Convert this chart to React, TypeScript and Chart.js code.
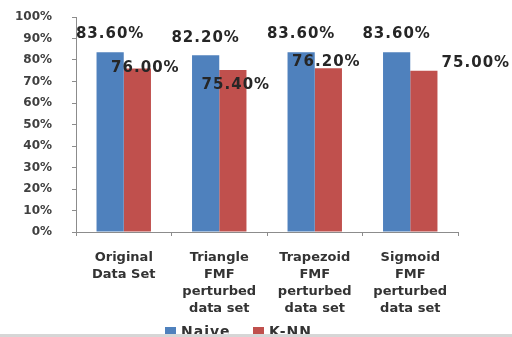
import React, { useEffect, useRef } from "react";
import { Chart, registerables } from "chart.js";

Chart.register(...registerables);

const categories: string[][] = [
  ["Original", "Data Set"],
  ["Triangle", "FMF", "perturbed", "data set"],
  ["Trapezoid", "FMF", "perturbed", "data set"],
  ["Sigmoid", "FMF", "perturbed", "data set"],
];
const naiveValues = [83.6, 82.2, 83.6, 83.6];
const knnValues = [76.0, 75.4, 76.2, 75.0];
const seriesNames = ["Naive", "K-NN"];
const seriesColors = ["#4F81BD", "#C0504D"];

// label placement relative to each bar's top centre
const naiveLabelShift = [
  [0, -18],
  [0, -17],
  [0, -18],
  [0, -18],
];
const knnLabelShift = [
  [8, 0],
  [3, 15],
  [-2, -6],
  [52, -8],
];

const FONT = "'DejaVu Sans', Verdana, sans-serif";

const valueLabels = {
  id: "valueLabels",
  afterDatasetsDraw(chart: any) {
    const ctx = chart.ctx;
    const shifts = [naiveLabelShift, knnLabelShift];
    ctx.save();
    ctx.font = `bold 15px ${FONT}`;
    (ctx as any).letterSpacing = "1px";
    ctx.fillStyle = "#262626";
    ctx.textAlign = "center";
    ctx.textBaseline = "middle";
    chart.data.datasets.forEach((ds: any, di: number) => {
      const meta = chart.getDatasetMeta(di);
      meta.data.forEach((bar: any, i: number) => {
        const v = ds.data[i] as number;
        const [dx, dy] = shifts[di][i];
        ctx.fillText(v.toFixed(2) + "%", bar.x + dx, bar.y + dy);
      });
    });
    ctx.restore();
  },
};

const bottomLegend = {
  id: "bottomLegend",
  afterDraw(chart: any) {
    const ctx = chart.ctx;
    ctx.save();
    ctx.font = `bold 14px ${FONT}`;
    (ctx as any).letterSpacing = "1px";
    ctx.textBaseline = "middle";
    ctx.textAlign = "left";
    const y = 332;
    const starts = [165, 253];
    chart.data.datasets.forEach((ds: any, di: number) => {
      const x = starts[di];
      ctx.fillStyle = ds.backgroundColor;
      ctx.fillRect(x, y - 5, 11, 10);
      ctx.fillStyle = "#333333";
      ctx.fillText(ds.label, x + 16, y);
    });
    ctx.fillStyle = "#d6d6d6";
    ctx.fillRect(0, 334, chart.width, 3);
    ctx.restore();
  },
};

export default function App() {
  const canvasRef = useRef<HTMLCanvasElement | null>(null);

  useEffect(() => {
    document.body.style.margin = "0";
    const canvas = canvasRef.current;
    if (!canvas) return;
    const chart = new Chart(canvas, {
      type: "bar",
      data: {
        labels: categories,
        datasets: [
          {
            label: seriesNames[0],
            data: naiveValues,
            backgroundColor: seriesColors[0],
            categoryPercentage: 0.57,
            barPercentage: 1.0,
          },
          {
            label: seriesNames[1],
            data: knnValues,
            backgroundColor: seriesColors[1],
            categoryPercentage: 0.57,
            barPercentage: 1.0,
          },
        ],
      },
      options: {
        responsive: false,
        animation: false,
        layout: { padding: { left: 0, right: 54, top: 17, bottom: 0 } },
        plugins: {
          legend: { display: false },
          tooltip: { enabled: false },
        },
        scales: {
          y: {
            min: 0,
            max: 100,
            afterFit: (scale: any) => {
              scale.width = 76;
              scale.paddingTop = 0;
              scale.paddingBottom = 0;
            },
            ticks: {
              stepSize: 10,
              padding: 20,
              color: "#404040",
              font: { family: FONT, size: 12, weight: "bold" },
              callback: (v: any) => v + "%",
            },
            grid: {
              drawOnChartArea: false,
              drawTicks: true,
              tickLength: 4,
              color: "#8c8c8c",
            },
            border: { display: true, color: "#8c8c8c", width: 1 },
          },
          x: {
            afterFit: (scale: any) => {
              scale.height = 105;
            },
            ticks: {
              autoSkip: false,
              maxRotation: 0,
              minRotation: 0,
              padding: 13,
              color: "#333333",
              font: { family: FONT, size: 13, weight: "bold", lineHeight: 1.3 },
            },
            grid: {
              drawOnChartArea: false,
              drawTicks: true,
              tickLength: 4,
              color: "#8c8c8c",
            },
            border: { display: true, color: "#8c8c8c", width: 1 },
          },
        },
      },
      plugins: [valueLabels, bottomLegend],
    });
    return () => chart.destroy();
  }, []);

  return (
    <div style={{ width: 512, height: 337, background: "#ffffff" }}>
      <canvas ref={canvasRef} width={512} height={337} />
    </div>
  );
}
